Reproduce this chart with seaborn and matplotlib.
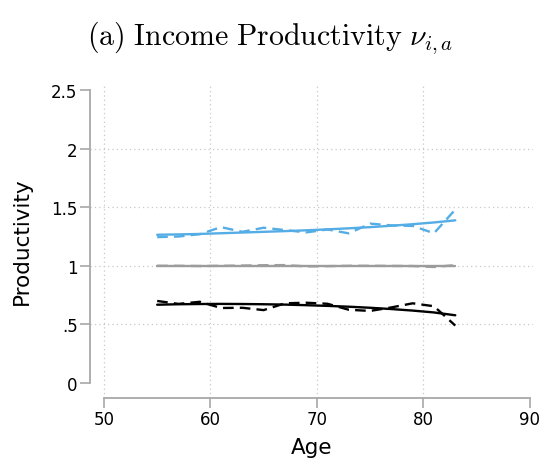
import matplotlib
matplotlib.use("Agg")
import matplotlib.pyplot as plt
import seaborn as sns
import pandas as pd

# Ages at which productivity is estimated (every two years)
ages = [55, 57, 59, 61, 63, 65, 67, 69, 71, 73, 75, 77, 79, 81, 83]

# High-productivity group: raw estimates and smooth fit
high_raw = [1.245, 1.25, 1.27, 1.33, 1.29, 1.325, 1.305, 1.285, 1.31, 1.277,
            1.36, 1.345, 1.34, 1.278, 1.48]
high_fit = [1.265, 1.268, 1.272, 1.278, 1.284, 1.29, 1.296, 1.303, 1.311, 1.32,
            1.33, 1.342, 1.355, 1.37, 1.388]

# Middle group: raw estimates and smooth fit
mid_raw = [1.0, 1.0, 0.998, 1.0, 1.002, 1.005, 1.006, 0.995, 0.997, 1.0,
           1.0, 0.999, 0.998, 0.99, 1.006]
mid_fit = [1.0, 1.0, 1.0, 1.0, 1.0, 1.0, 1.0, 1.0, 1.0, 1.0,
           1.0, 1.0, 1.0, 1.0, 1.0]

# Low-productivity group: raw estimates and smooth fit
low_raw = [0.70, 0.675, 0.693, 0.64, 0.642, 0.622, 0.68, 0.685, 0.676, 0.625,
           0.615, 0.645, 0.68, 0.655, 0.49]
low_fit = [0.668, 0.672, 0.674, 0.675, 0.674, 0.672, 0.669, 0.664, 0.658, 0.651,
           0.642, 0.631, 0.618, 0.602, 0.578]

x_ticks = [50, 60, 70, 80, 90]
y_ticks = [0, 0.5, 1, 1.5, 2, 2.5]
y_tick_labels = ["0", ".5", "1", "1.5", "2", "2.5"]

sns.set_theme(style="white")
plt.rcParams["font.family"] = ["DejaVu Sans"]
plt.rcParams["mathtext.fontset"] = "cm"
plt.rcParams["text.color"] = "black"
plt.rcParams["axes.labelcolor"] = "black"

fig = plt.figure(figsize=(5.4, 4.6), dpi=100)
ax = fig.add_axes([90 / 540, 61 / 460, 443 / 540, 315 / 460])

blue = "#55ADE5"
grey = "#9C9C9C"
black = "#000000"
dash = (0, (4.5, 2.6))

series = [
    (high_raw, blue, dash),
    (high_fit, blue, "-"),
    (mid_raw, grey, dash),
    (mid_fit, grey, "-"),
    (low_raw, black, dash),
    (low_fit, black, "-"),
]
for vals, color, ls in series:
    df = pd.DataFrame({"age": ages, "value": vals})
    sns.lineplot(data=df, x="age", y="value", ax=ax, color=color,
                 linestyle=ls, linewidth=1.7)

ax.set_xlim(48.69, 90.3)
ax.set_ylim(-0.128, 2.56)
ax.set_xticks(x_ticks)
ax.set_xticklabels([str(t) for t in x_ticks])
ax.set_yticks(y_ticks)
ax.set_yticklabels(y_tick_labels)

spine_col = "#A8A8A8"
for side in ["top", "right"]:
    ax.spines[side].set_visible(False)
ax.spines["left"].set_bounds(0, 2.5)
ax.spines["bottom"].set_bounds(50, 90)
for side in ["left", "bottom"]:
    ax.spines[side].set_color(spine_col)
    ax.spines[side].set_linewidth(1.3)

ax.tick_params(axis="both", which="major", length=7, width=1.2,
               color=spine_col, labelsize=12, labelcolor="black",
               left=True, bottom=True, pad=2)

ax.grid(True, linestyle=(0, (1, 2.5)), color="#C8C8C8", linewidth=0.9)
for val, line in zip(x_ticks, ax.xaxis.get_gridlines()):
    if val == 90:
        line.set_visible(False)
for val, line in zip(y_ticks, ax.yaxis.get_gridlines()):
    if val in (0, 2.5):
        line.set_visible(False)

ax.set_xlabel("Age", fontsize=15.5, labelpad=6, color="black")
ax.set_ylabel("Productivity", fontsize=15.5, labelpad=14, color="black")

fig.text(0.5, 1 - 45 / 460, r"$\mathrm{(a)\ Income\ Productivity}\ \nu_{i,a}$",
         ha="center", va="baseline", fontsize=21.5, color="black")

fig.savefig("out.png", dpi=100)
